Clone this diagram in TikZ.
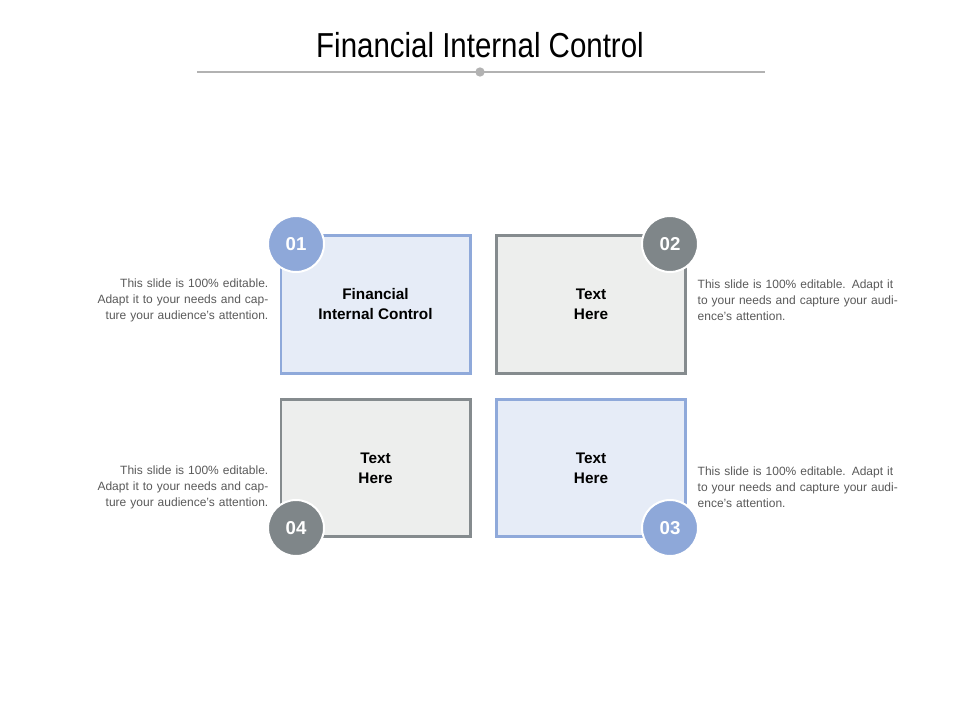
\documentclass[tikz,border=0pt]{standalone}
\usepackage{fontspec}
\setmainfont{Liberation Sans}
\definecolor{bfill}{HTML}{E6ECF7}
\definecolor{bdraw}{HTML}{8FA9DA}
\definecolor{gfill}{HTML}{EDEEED}
\definecolor{gdraw}{HTML}{858B8E}
\definecolor{cblue}{HTML}{8EA8D9}
\definecolor{cgrey}{HTML}{7F8689}
\definecolor{txt}{HTML}{595959}
\begin{document}
\begin{tikzpicture}[x=0.75pt,y=-0.75pt,
 bbox/.style={line width=2pt,minimum width=142pt,minimum height=103pt,font=\fontsize{11.5}{15}\selectfont\bfseries,align=center},
 blue/.style={bbox,fill=bfill,draw=bdraw},
 grey/.style={bbox,fill=gfill,draw=gdraw},
 num/.style={circle,minimum size=42pt,draw=white,line width=1.5pt,text=white,font=\fontsize{14}{16}\selectfont\bfseries},
 desc/.style={font=\fontsize{9}{12}\selectfont,text=txt,text width=160pt}]
\useasboundingbox (0,0) rectangle (960,720);
\node[font=\fontsize{26}{30}\selectfont,xscale=0.85] (title) at (480,45) {Financial Internal Control};
\coordinate (l1) at (197,72); \coordinate (l2) at (765,72);
\draw[gray!60,line width=0.8pt] (l1) -- (l2);
\node[circle,fill=gray!60,inner sep=0,minimum size=7pt] (dot) at (480,72) {};
\node[blue] (b1) at (375.5,304.5) {Financial\\Internal Control};
\node[grey] (b2) at (591,304.5) {Text\\Here};
\node[grey] (b4) at (375.5,468) {Text\\Here};
\node[blue] (b3) at (591,468) {Text\\Here};
\node[num,fill=cblue] (c1) at (296,244) {01};
\node[num,fill=cgrey] (c2) at (670,244) {02};
\node[num,fill=cgrey] (c4) at (296,528) {04};
\node[num,fill=cblue] (c3) at (670,528) {03};
\node[desc,align=right,anchor=east] (d1) at (273,300) {This slide is 100\% editable. Adapt it to your needs and capture your audience's attention.};
\node[desc,align=left,anchor=west] (d2) at (693,300) {This slide is 100\% editable. Adapt it to your needs and capture your audience's attention.};
\node[desc,align=right,anchor=east] (d4) at (273,487) {This slide is 100\% editable. Adapt it to your needs and capture your audience's attention.};
\node[desc,align=left,anchor=west] (d3) at (693,487) {This slide is 100\% editable. Adapt it to your needs and capture your audience's attention.};
\end{tikzpicture}
\end{document}
